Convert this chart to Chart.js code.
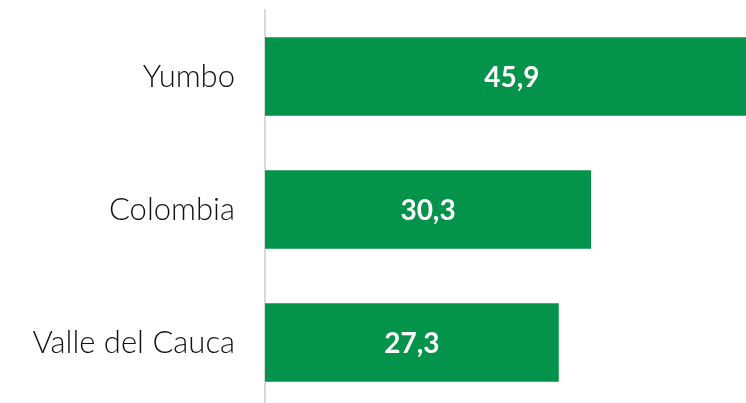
<!DOCTYPE html>
<html>
<head>
<meta charset="utf-8">
<script src="https://cdn.jsdelivr.net/npm/chart.js@4"></script>
<style>
  html, body { margin: 0; padding: 0; background: #fff; overflow: hidden; }
  #wrap { width: 746px; height: 403px; overflow: hidden; }
</style>
</head>
<body>
<div id="wrap"><canvas id="chart" width="746" height="409"></canvas></div>
<script>
// ====== DATA ======
const categories = ['Yumbo', 'Colombia', 'Valle del Cauca'];
const values     = [45.9, 30.3, 27.3];

// ====== HELPERS ======
function fmt(v){ return v.toFixed(1).replace('.', ','); }

// value labels drawn in the middle of each bar
const barLabels = {
  id: 'barLabels',
  afterDatasetsDraw(chart){
    const ctx = chart.ctx;
    const meta = chart.getDatasetMeta(0);
    ctx.save();
    ctx.fillStyle = '#ffffff';
    ctx.font = 'bold 28px Lato';
    ctx.textAlign = 'center';
    ctx.textBaseline = 'middle';
    meta.data.forEach((bar, i) => {
      const x = (bar.x + bar.base) / 2;
      ctx.fillText(fmt(values[i]), x, bar.y + 1);
    });
    ctx.restore();
  }
};

// ====== CHART ======
const ctx = document.getElementById('chart').getContext('2d');
new Chart(ctx, {
  type: 'bar',
  data: {
    labels: categories,
    datasets: [{
      data: values,
      backgroundColor: '#03934a',
      borderWidth: 0,
      categoryPercentage: 1,
      barPercentage: 0.59
    }]
  },
  options: {
    indexAxis: 'y',
    responsive: false,
    animation: false,
    devicePixelRatio: 1,
    layout: { padding: { top: 10, right: 0, bottom: 0, left: 0 } },
    plugins: { legend: { display: false }, tooltip: { enabled: false } },
    scales: {
      x: { display: false, min: 0, max: 44.7 },
      y: {
        grid: { display: false },
        border: { display: true, color: '#d9d9d9', width: 2 },
        ticks: {
          color: '#111',
          padding: 22,
          font: { family: 'Lato', size: 31, weight: 300 }
        },
        afterFit(scale){
          scale.width = 265;
          scale.paddingTop = 0;
          scale.paddingBottom = 0;
        }
      }
    }
  },
  plugins: [barLabels]
});
</script>
</body>
</html>
